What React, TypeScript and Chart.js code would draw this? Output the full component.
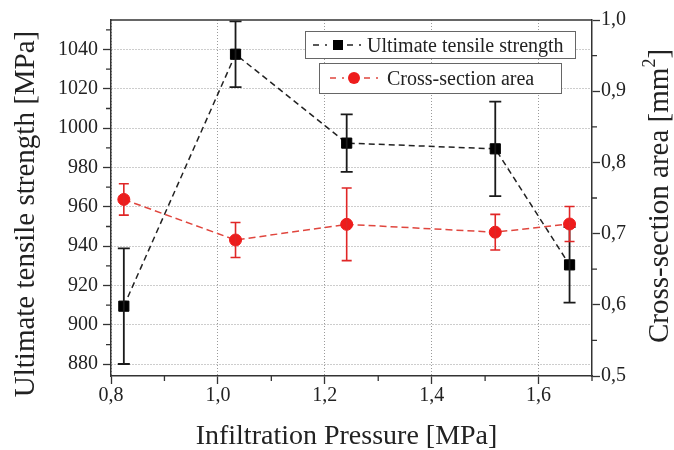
import React, { useEffect, useRef } from "react";
import { Chart, registerables } from "chart.js";

Chart.register(...registerables);

// ---- Data ----
const pressure = [0.824, 1.033, 1.241, 1.519, 1.658];
const strength = [909.5, 1037.6, 992.4, 989.5, 930.5];
const strengthErr = [29.4, 16.7, 14.6, 24.0, 19.2];
const area = [0.748, 0.691, 0.713, 0.702, 0.7135];
const areaErr = [0.022, 0.0245, 0.051, 0.025, 0.0245];

// ---- Tick labels ----
const xMajorTicks = [0.8, 1.0, 1.2, 1.4, 1.6];
const xMinorTicks = [0.9, 1.1, 1.3, 1.5, 1.7];
const yLeftMajorTicks = [880, 900, 920, 940, 960, 980, 1000, 1020, 1040];
const yLeftMinorTicks = [890, 910, 930, 950, 970, 990, 1010, 1030, 1050];
const yRightMajorTicks = [0.5, 0.6, 0.7, 0.8, 0.9, 1.0];
const yRightMinorTicks = [0.55, 0.65, 0.75, 0.85, 0.95];

const seriesNames = ["Ultimate tensile strength", "Cross-section area"];
const xTitle = "Infiltration Pressure [MPa]";
const yLeftTitle = "Ultimate tensile strength [MPa]";
const yRightTitleMain = "Cross-section area [mm";
const yRightTitleSup = "2";
const yRightTitleEnd = "]";

const FONT = "'Liberation Serif', 'Times New Roman', serif";
const INK = "#222";
const RED = "#ee1c1c";
const RED_LINE = "#e0463e";
const GRID = "#9a9a9a";

const comma = (v: number) => v.toFixed(1).replace(".", ",");

const errorBarPlugin = {
  id: "errorBars",
  afterDatasetDraw(chart: any, args: any) {
    const ds = chart.data.datasets[args.index];
    const errs: number[] = ds.errorValues;
    if (!errs) return;
    const xs = chart.scales.x;
    const ys = chart.scales[ds.yAxisID];
    const ctx = chart.ctx;
    ctx.save();
    ctx.strokeStyle = ds.errorColor;
    ctx.lineWidth = ds.errorWidth;
    ctx.setLineDash([]);
    ds.data.forEach((p: any, i: number) => {
      const px = xs.getPixelForValue(p.x);
      const top = ys.getPixelForValue(p.y + errs[i]);
      const bot = ys.getPixelForValue(p.y - errs[i]);
      const c = ds.capHalf;
      ctx.beginPath();
      ctx.moveTo(px, top);
      ctx.lineTo(px, bot);
      ctx.moveTo(px - c, top);
      ctx.lineTo(px + c, top);
      ctx.moveTo(px - c, bot);
      ctx.lineTo(px + c, bot);
      ctx.stroke();
    });
    ctx.restore();
  },
};

const decorPlugin = {
  id: "decor",
  afterDraw(chart: any) {
    const ctx = chart.ctx;
    const { left, right, top, bottom } = chart.chartArea;
    const xs = chart.scales.x;
    const yl = chart.scales.y;
    const yr = chart.scales.yR;
    ctx.save();
    // top frame line
    ctx.strokeStyle = "#333";
    ctx.lineWidth = 1.5;
    ctx.setLineDash([]);
    ctx.beginPath();
    ctx.moveTo(left, top);
    ctx.lineTo(right, top);
    ctx.stroke();
    // minor ticks
    ctx.lineWidth = 1.3;
    ctx.beginPath();
    xMinorTicks.forEach((v) => {
      const p = xs.getPixelForValue(v);
      ctx.moveTo(p, bottom);
      ctx.lineTo(p, bottom + 5);
    });
    yLeftMinorTicks.forEach((v) => {
      const p = yl.getPixelForValue(v);
      ctx.moveTo(left, p);
      ctx.lineTo(left - 5, p);
    });
    yRightMinorTicks.forEach((v) => {
      const p = yr.getPixelForValue(v);
      ctx.moveTo(right, p);
      ctx.lineTo(right + 5, p);
    });
    ctx.stroke();

    // axis titles
    ctx.fillStyle = INK;
    ctx.font = `28px ${FONT}`;
    ctx.textAlign = "center";
    ctx.textBaseline = "alphabetic";
    ctx.fillText(xTitle, (left + right) / 2 - 5, 444);

    ctx.save();
    ctx.translate(34, 214);
    ctx.rotate(-Math.PI / 2);
    ctx.font = `29px ${FONT}`;
    ctx.fillText(yLeftTitle, 0, 0);
    ctx.restore();

    ctx.save();
    ctx.translate(668, 196);
    ctx.rotate(-Math.PI / 2);
    ctx.textAlign = "left";
    ctx.font = `29px ${FONT}`;
    const w1 = ctx.measureText(yRightTitleMain).width;
    const w3 = ctx.measureText(yRightTitleEnd).width;
    ctx.font = `18px ${FONT}`;
    const w2 = ctx.measureText(yRightTitleSup).width;
    const total = w1 + w2 + w3;
    const x0 = -total / 2;
    ctx.font = `29px ${FONT}`;
    ctx.fillText(yRightTitleMain, x0, 0);
    ctx.font = `18px ${FONT}`;
    ctx.fillText(yRightTitleSup, x0 + w1, -13);
    ctx.font = `29px ${FONT}`;
    ctx.fillText(yRightTitleEnd, x0 + w1 + w2, 0);
    ctx.restore();

    // legend boxes
    ctx.lineWidth = 1;
    ctx.strokeStyle = "#666";
    ctx.fillStyle = "#fff";
    ctx.fillRect(305.5, 31.5, 270, 27);
    ctx.strokeRect(305.5, 31.5, 270, 27);
    ctx.fillRect(319.5, 63.5, 242, 30);
    ctx.strokeRect(319.5, 63.5, 242, 30);

    const drawSym = (x0: number, y: number, color: string, lw: number) => {
      ctx.strokeStyle = color;
      ctx.lineWidth = lw;
      ctx.beginPath();
      ctx.moveTo(x0, y);
      ctx.lineTo(x0 + 6, y);
      ctx.moveTo(x0 + 12, y);
      ctx.lineTo(x0 + 14, y);
      ctx.moveTo(x0 + 34, y);
      ctx.lineTo(x0 + 40, y);
      ctx.moveTo(x0 + 46, y);
      ctx.lineTo(x0 + 48, y);
      ctx.stroke();
    };
    drawSym(313, 45, INK, 1.5);
    ctx.fillStyle = "#000";
    ctx.fillRect(333, 40, 10, 10);
    drawSym(330, 78, RED_LINE, 1.5);
    ctx.fillStyle = RED;
    ctx.beginPath();
    ctx.arc(354, 78, 6, 0, Math.PI * 2);
    ctx.fill();

    ctx.fillStyle = INK;
    ctx.font = `20px ${FONT}`;
    ctx.textAlign = "left";
    ctx.fillText(seriesNames[0], 367, 52);
    ctx.fillText(seriesNames[1], 387, 85);
    ctx.restore();
  },
};

export default function App() {
  const ref = useRef<HTMLCanvasElement | null>(null);
  useEffect(() => {
    document.body.style.margin = "0";
    const canvas = ref.current;
    if (!canvas) return;
    const chart = new Chart(canvas, {
      type: "line",
      data: {
        datasets: [
          {
            label: seriesNames[1],
            data: pressure.map((x, i) => ({ x, y: area[i] })),
            yAxisID: "yR",
            borderColor: RED_LINE,
            borderWidth: 1.5,
            borderDash: [7, 4],
            pointStyle: "circle",
            pointRadius: 6,
            pointBackgroundColor: RED,
            pointBorderColor: RED,
            pointBorderWidth: 1,
            errorValues: areaErr,
            errorColor: "#e02626",
            errorWidth: 1.6,
            capHalf: 5,
          } as any,
          {
            label: seriesNames[0],
            data: pressure.map((x, i) => ({ x, y: strength[i] })),
            yAxisID: "y",
            borderColor: INK,
            borderWidth: 1.5,
            borderDash: [6, 4],
            pointStyle: "rect",
            pointRadius: 7.2,
            pointBackgroundColor: "#000",
            pointBorderColor: "#000",
            pointBorderWidth: 1,
            errorValues: strengthErr,
            errorColor: "#1a1a1a",
            errorWidth: 1.8,
            capHalf: 6,
          } as any,
        ],
      },
      options: {
        animation: false,
        responsive: false,
        layout: { padding: { top: 20, left: 0, right: 0, bottom: 0 } },
        plugins: {
          legend: { display: false },
          tooltip: { enabled: false },
        },
        scales: {
          x: {
            type: "linear",
            min: 0.8,
            max: 1.7,
            afterBuildTicks: (s: any) => {
              s.ticks = xMajorTicks.map((v) => ({ value: v }));
            },
            afterFit: (s: any) => {
              s.height = 74;
            },
            ticks: {
              autoSkip: false,
              maxRotation: 0,
              padding: 0,
              color: INK,
              font: { family: FONT, size: 20 },
              callback: (v: any) => comma(Number(v)),
            },
            grid: {
              color: GRID,
              lineWidth: 1,
              borderDash: [1, 2],
              tickColor: "#333",
              tickLength: 8,
              tickWidth: 1.3,
              tickBorderDash: [],
            },
            border: { color: "#333", width: 1.5, dash: [1, 2] },
          },
          y: {
            type: "linear",
            position: "left",
            min: 874,
            max: 1055,
            afterBuildTicks: (s: any) => {
              s.ticks = yLeftMajorTicks.map((v) => ({ value: v }));
            },
            afterFit: (s: any) => {
              s.width = 111;
            },
            ticks: {
              autoSkip: false,
              padding: 5,
              color: INK,
              font: { family: FONT, size: 20 },
              callback: (v: any) => String(v),
            },
            grid: {
              color: GRID,
              lineWidth: 1,
              borderDash: [1, 2],
              tickColor: "#333",
              tickLength: 8,
              tickWidth: 1.3,
              tickBorderDash: [],
            },
            border: { color: "#333", width: 1.5, dash: [1, 2] },
          },
          yR: {
            type: "linear",
            position: "right",
            min: 0.5,
            max: 1.0,
            afterBuildTicks: (s: any) => {
              s.ticks = yRightMajorTicks.map((v) => ({ value: v }));
            },
            afterFit: (s: any) => {
              s.width = 82;
            },
            ticks: {
              autoSkip: false,
              padding: 1,
              color: INK,
              font: { family: FONT, size: 20 },
              callback: (v: any) => comma(Number(v)),
            },
            grid: {
              drawOnChartArea: false,
              tickColor: "#333",
              tickLength: 8,
              tickWidth: 1.3,
            },
            border: { color: "#333", width: 1.5 },
          },
        },
      } as any,
      plugins: [errorBarPlugin, decorPlugin],
    });
    return () => chart.destroy();
  }, []);
  return (
    <div style={{ width: 674, height: 450 }}>
      <canvas ref={ref} width={674} height={450} style={{ display: "block", width: 674, height: 450 }} />
    </div>
  );
}
